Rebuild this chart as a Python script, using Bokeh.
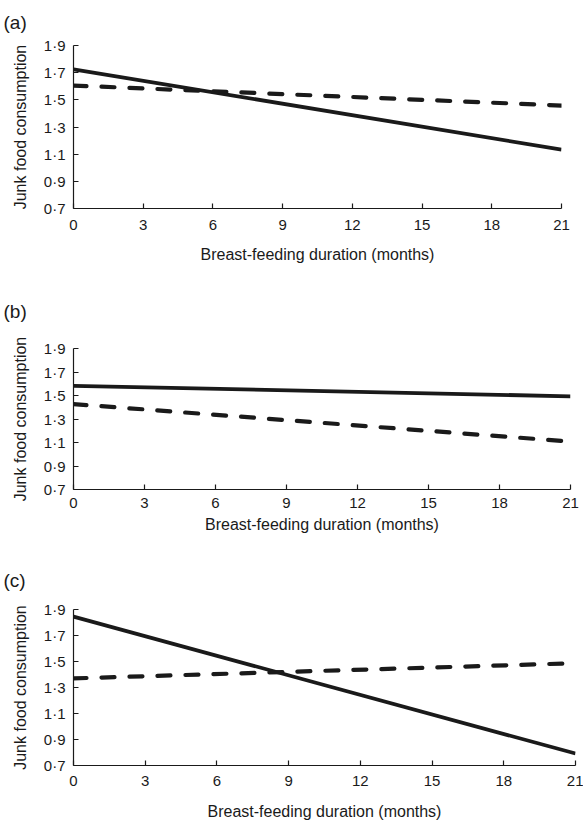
from bokeh.plotting import figure
from bokeh.models import Range1d, FixedTicker, Title
from bokeh.embed import file_html
from bokeh.resources import INLINE

# ---- data ----
months = [0, 21]
x_ticks = [0, 3, 6, 9, 12, 15, 18, 21]
y_ticks = [0.7, 0.9, 1.1, 1.3, 1.5, 1.7, 1.9]
y_tick_labels = ["0·7", "0·9", "1·1", "1·3", "1·5", "1·7", "1·9"]

panel_labels = ["(a)", "(b)", "(c)"]
solid_a = [1.725, 1.133]
dashed_a = [1.605, 1.458]
solid_b = [1.582, 1.493]
dashed_b = [1.427, 1.108]
solid_c = [1.845, 0.792]
dashed_c = [1.370, 1.487]

FONT = "Liberation Sans"
INK = "#1a1a1a"
LEFT = 73
WIDTH = 583


def make_panel(label, solid, dashed, height, top, frame_h, frame_w,
               spacer, spacer_standoff, tick_standoff, label_standoff):
    p = figure(width=WIDTH, height=height,
               x_range=Range1d(0, 21), y_range=Range1d(0.7, 1.9),
               output_backend="svg", toolbar_location=None,
               min_border_left=LEFT, min_border_top=top,
               min_border_right=WIDTH - LEFT - frame_w,
               min_border_bottom=height - top - frame_h)
    p.outline_line_color = None
    p.grid.visible = False
    p.background_fill_color = "white"
    p.border_fill_color = "white"

    if spacer:
        p.add_layout(Title(text=" ", text_font_size=f"{spacer}px",
                           standoff=spacer_standoff), "above")
    p.title.text = label
    p.title.align = "left"
    p.title.offset = -70
    p.title.text_font = FONT
    p.title.text_font_size = "19px"
    p.title.text_font_style = "normal"
    p.title.text_color = INK

    p.line(months, solid, line_color=INK, line_width=3.8)
    p.line(months, dashed, line_color=INK, line_width=4.2,
           line_dash="13 15", line_cap="round")

    for ax in (p.xaxis[0], p.yaxis[0]):
        ax.axis_line_color = INK
        ax.axis_line_width = 1.2
        ax.major_tick_line_color = INK
        ax.major_tick_line_width = 1.2
        ax.major_tick_in = 5
        ax.major_tick_out = 0
        ax.minor_tick_line_color = None
        ax.major_label_text_font = FONT
        ax.major_label_text_font_size = "15px"
        ax.major_label_text_color = INK
        ax.axis_label_text_font = FONT
        ax.axis_label_text_font_size = "16px"
        ax.axis_label_text_font_style = "normal"
        ax.axis_label_text_color = INK

    p.xaxis.ticker = FixedTicker(ticks=x_ticks)
    p.xaxis.axis_label = "Breast-feeding duration (months)"
    p.xaxis.major_label_standoff = tick_standoff
    p.xaxis.axis_label_standoff = label_standoff

    p.yaxis.ticker = FixedTicker(ticks=y_ticks)
    p.yaxis.major_label_overrides = dict(zip(y_ticks, y_tick_labels))
    p.yaxis.axis_label = "Junk food consumption"
    p.yaxis.major_label_standoff = 8
    p.yaxis.axis_label_standoff = 12
    return p


pa = make_panel(panel_labels[0], solid_a, dashed_a, 275, 45, 163, 488, 6, 0, 11, 13)
pb = make_panel(panel_labels[1], solid_b, dashed_b, 265, 73, 141, 497, 9, 10, 8, 5)
pc = make_panel(panel_labels[2], solid_c, dashed_c, 282, 69, 161, 502, 2, 10, 10, 14)

open("out.html", "w").write(file_html([pa, pb, pc], INLINE))
